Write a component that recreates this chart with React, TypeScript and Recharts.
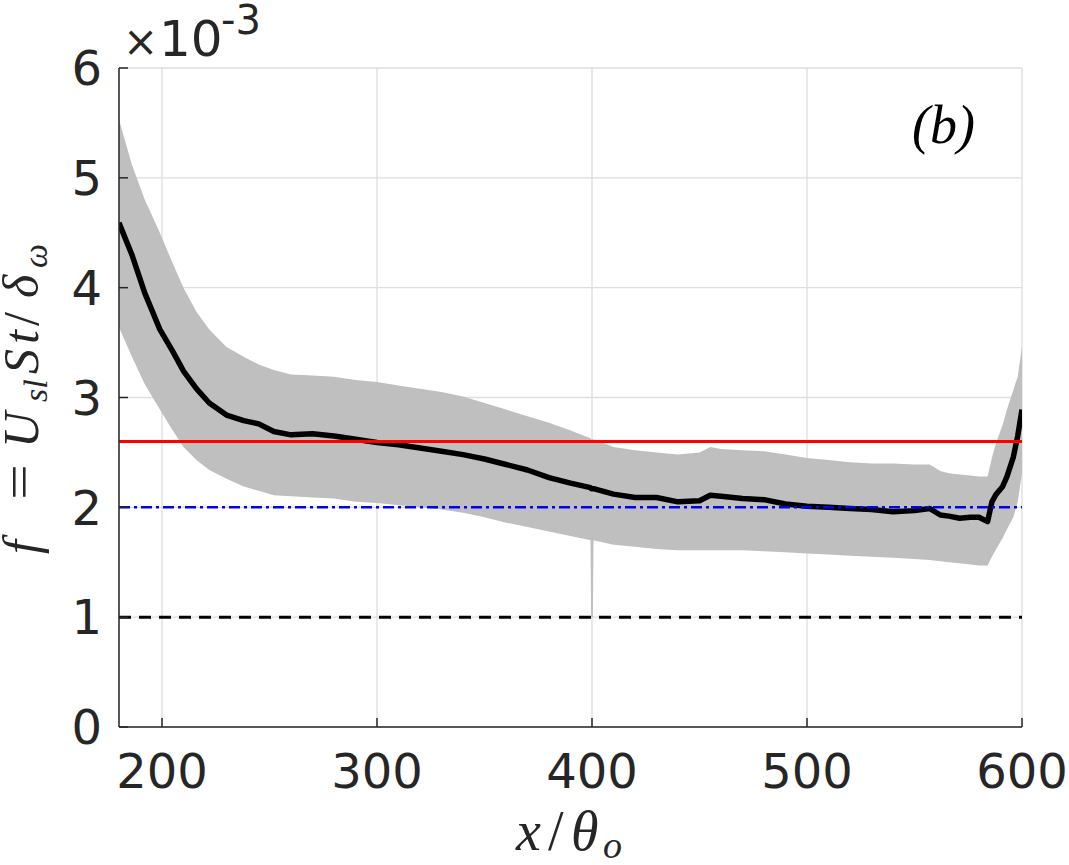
import React from 'react';
import {
  ComposedChart,
  Area,
  Line,
  XAxis,
  YAxis,
  CartesianGrid,
  ReferenceLine,
} from 'recharts';

// x / theta_o positions
const xPos = [
  180, 186, 192, 199, 205, 210, 216, 222, 230, 238, 245, 252, 260, 270, 280,
  290, 300, 310, 320, 330, 340, 350, 360, 370, 380, 390, 399.3, 399.6, 400.4, 400.7, 410,
  420, 430, 440, 450, 455, 460, 470, 480, 490, 500, 510, 520, 530, 540, 550,
  557, 562, 566, 571, 576, 580, 584, 586, 588, 591, 593, 596, 598, 600,
];

// mean f (x 1e-3)
const meanF = [
  4.59, 4.3, 3.95, 3.62, 3.42, 3.24, 3.08, 2.95, 2.84, 2.79, 2.76, 2.69, 2.66, 2.67, 2.65,
  2.62, 2.59, 2.57, 2.54, 2.51, 2.48, 2.44, 2.39, 2.34, 2.27, 2.22, 2.18, 2.17, 2.17, 2.17, 2.12,
  2.09, 2.09, 2.05, 2.06, 2.11, 2.1, 2.08, 2.07, 2.03, 2.01, 2.0, 1.99, 1.98, 1.96, 1.97,
  1.99, 1.93, 1.92, 1.9, 1.91, 1.91, 1.87, 2.05, 2.12, 2.19, 2.28, 2.46, 2.65, 2.89,
];

// upper edge of shaded band
const bandHigh = [
  5.53, 5.12, 4.8, 4.5, 4.22, 4.0, 3.78, 3.62, 3.46, 3.37, 3.3, 3.25, 3.21, 3.2, 3.19,
  3.16, 3.14, 3.11, 3.08, 3.05, 3.01, 2.95, 2.89, 2.83, 2.77, 2.7, 2.63, 2.62, 2.62, 2.62, 2.55,
  2.52, 2.5, 2.48, 2.5, 2.55, 2.53, 2.52, 2.51, 2.48, 2.45, 2.43, 2.41, 2.4, 2.4, 2.39,
  2.39, 2.33, 2.31, 2.3, 2.29, 2.28, 2.28, 2.45, 2.59, 2.75, 2.89, 3.07, 3.19, 3.46,
];

// lower edge of shaded band
const bandLow = [
  3.64, 3.37, 3.12, 2.89, 2.7, 2.55, 2.43, 2.34, 2.26, 2.19, 2.15, 2.11, 2.1, 2.09, 2.08,
  2.05, 2.04, 2.02, 2.0, 1.98, 1.95, 1.91, 1.86, 1.82, 1.78, 1.74, 1.7, 1.0, 1.0, 1.7, 1.66,
  1.64, 1.62, 1.61, 1.61, 1.61, 1.61, 1.61, 1.6, 1.59, 1.58, 1.57, 1.56, 1.55, 1.54, 1.53,
  1.52, 1.51, 1.5, 1.49, 1.48, 1.47, 1.47, 1.55, 1.62, 1.72, 1.8, 1.91, 2.05, 2.31,
];

const xTicks = [200, 300, 400, 500, 600];
const yTicks = [0, 1, 2, 3, 4, 5, 6];

const refRed = 2.6;
const refBlue = 2.0;
const refBlack = 1.0;

const data = xPos.map((x, i) => ({
  x,
  mean: meanF[i],
  band: [bandLow[i], bandHigh[i]],
}));

const AX = '#262626';
const TICK_FONT = 'DejaVu Sans, sans-serif';
const MATH_FONT = 'Liberation Serif, serif';

const XTick = (props: any) => {
  const { x, y, payload } = props;
  return (
    <g>
      <line x1={x} x2={x} y1={y} y2={y - 9} stroke={AX} strokeWidth={1.5} />
      <text x={x} y={y + 61} textAnchor="middle" fontSize={48} fill={AX} fontFamily={TICK_FONT}>
        {payload.value}
      </text>
    </g>
  );
};

const TopTick = (props: any) => {
  const { x, y } = props;
  return <line x1={x} x2={x} y1={y} y2={y + 9} stroke={AX} strokeWidth={1.5} />;
};

const YTick = (props: any) => {
  const { x, y, payload } = props;
  return (
    <g>
      <line x1={x + 17} x2={x + 26} y1={y} y2={y} stroke={AX} strokeWidth={1.5} />
      <text x={x} y={y} dy="0.36em" textAnchor="end" fontSize={48} fill={AX} fontFamily={TICK_FONT}>
        {payload.value}
      </text>
    </g>
  );
};

const RightTick = (props: any) => {
  const { x, y } = props;
  return <line x1={x} x2={x - 9} y1={y} y2={y} stroke={AX} strokeWidth={1.5} />;
};

export default function App() {
  return (
    <div style={{ position: 'absolute', left: 0, top: 0, width: 1069, height: 865, background: '#fff' }}>
      <ComposedChart
        width={1069}
        height={865}
        data={data}
        margin={{ top: 68, right: 47, bottom: 78, left: 59 }}
      >
        <CartesianGrid stroke="#dedede" strokeWidth={1.3} />
        <XAxis
          dataKey="x"
          type="number"
          domain={[180, 600]}
          ticks={xTicks}
          height={60}
          tickSize={0}
          tickMargin={0}
          tick={XTick}
          axisLine={{ stroke: AX, strokeWidth: 1.5 }}
          tickLine={false}
          allowDataOverflow
        />
        <XAxis
          xAxisId="top"
          orientation="top"
          dataKey="x"
          type="number"
          domain={[180, 600]}
          ticks={xTicks}
          height={0}
          tickSize={0}
          tickMargin={0}
          tick={TopTick}
          axisLine={{ stroke: AX, strokeWidth: 1.5 }}
          tickLine={false}
          allowDataOverflow
        />
        <YAxis
          type="number"
          domain={[0, 6]}
          ticks={yTicks}
          width={60}
          tickSize={0}
          tickMargin={17}
          tick={YTick}
          axisLine={{ stroke: AX, strokeWidth: 1.5 }}
          tickLine={false}
          allowDataOverflow
        />
        <YAxis
          yAxisId="right"
          orientation="right"
          type="number"
          domain={[0, 6]}
          ticks={yTicks}
          width={0}
          tickSize={0}
          tickMargin={0}
          tick={RightTick}
          axisLine={{ stroke: AX, strokeWidth: 1.5 }}
          tickLine={false}
          allowDataOverflow
        />
        <Area
          dataKey="band"
          type="linear"
          stroke="none"
          fill="#bfbfbf"
          fillOpacity={1}
          dot={false}
          activeDot={false}
          isAnimationActive={false}
        />
        <Line
          dataKey="mean"
          type="linear"
          stroke="#000"
          strokeWidth={5.5}
          strokeLinejoin="round"
          dot={false}
          activeDot={false}
          isAnimationActive={false}
        />
        <ReferenceLine y={refRed} stroke="#ff0000" strokeWidth={3} />
        <ReferenceLine y={refBlue} stroke="#0000ff" strokeWidth={2.5} strokeDasharray="11 4 3 4" />
        <ReferenceLine y={refBlack} stroke="#000" strokeWidth={3} strokeDasharray="12 8" />
      </ComposedChart>
      <svg
        width={1069}
        height={865}
        style={{ position: 'absolute', left: 0, top: 0, pointerEvents: 'none' }}
      >
        <text y={56} fill={AX} fontFamily={TICK_FONT}>
          <tspan x={123} fontSize={42}>×</tspan>
          <tspan x={159} fontSize={50}>10</tspan>
          <tspan x={221} y={34} fontSize={40}>-3</tspan>
        </text>
        <text x={912} y={143} fontSize={54} fontStyle="italic" fill="#000" fontFamily={MATH_FONT}>
          (b)
        </text>
        <text y={850} fontSize={56} fill={AX} fontFamily={MATH_FONT} fontStyle="italic">
          <tspan x={516}>x</tspan>
          <tspan x={548} fontStyle="normal">/</tspan>
          <tspan x={571}>θ</tspan>
          <tspan x={603} y={858} fontSize={38}>o</tspan>
        </text>
        <g transform="translate(38,560) rotate(-90)">
          <text fontSize={50} fill={AX} fontFamily={MATH_FONT} fontStyle="italic">
            <tspan x={6} y={0}>f</tspan>
            <tspan x={60} y={-2} fontStyle="normal" textLength={36} lengthAdjust="spacingAndGlyphs">=</tspan>
            <tspan x={112} y={0}>U</tspan>
            <tspan x={158} y={9} fontSize={34}>sl</tspan>
            <tspan x={186} y={0}>S</tspan>
            <tspan x={216} y={0}>t</tspan>
            <tspan x={234} y={0} fontStyle="normal">/</tspan>
            <tspan x={262} y={0}>δ</tspan>
            <tspan x={292} y={9} fontSize={34}>ω</tspan>
          </text>
        </g>
      </svg>
    </div>
  );
}
